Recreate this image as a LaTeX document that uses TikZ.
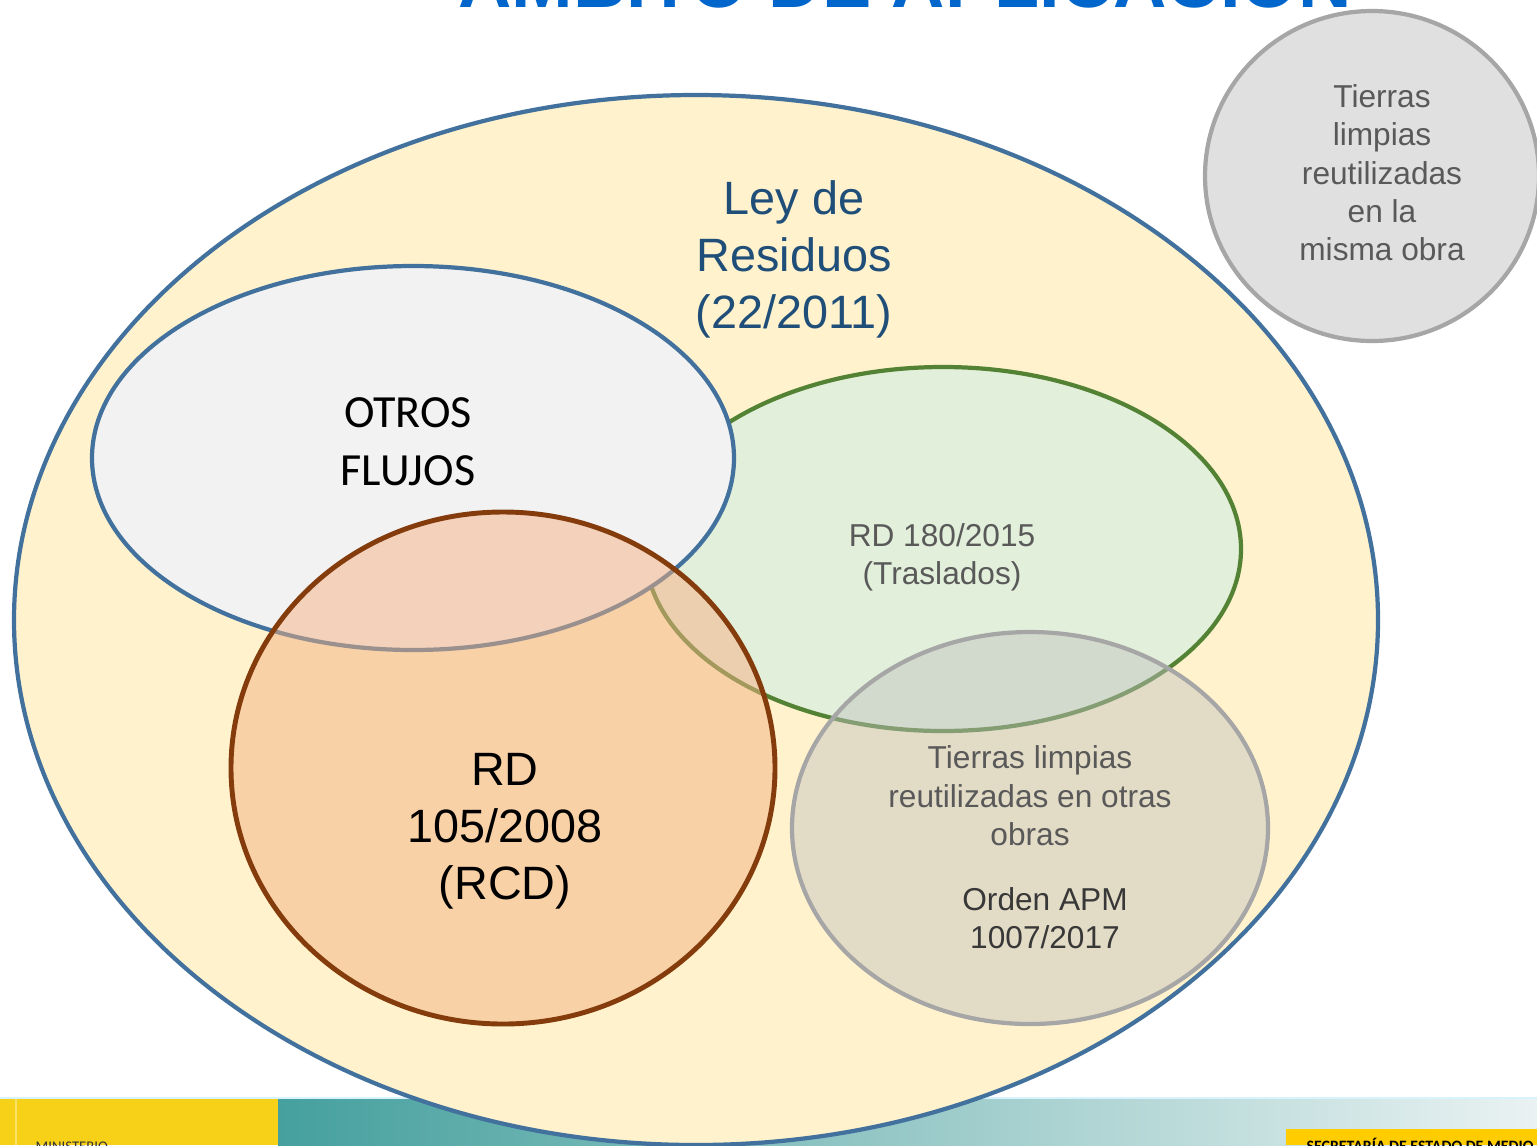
\documentclass[tikz,border=0pt]{standalone}
\usepackage{fontspec}
\setmainfont{Liberation Sans}
\newfontfamily\calibri{Carlito}
\usepackage{tikz}
\definecolor{leyfill}{HTML}{FFF2CC}
\definecolor{leyline}{HTML}{41719C}
\definecolor{leytext}{HTML}{1F4E79}
\definecolor{otrosfill}{HTML}{F2F2F2}
\definecolor{trasfill}{HTML}{E2EFDA}
\definecolor{trasline}{HTML}{548235}
\definecolor{rcdfill}{HTML}{F4B183}
\definecolor{rcdline}{HTML}{843C0C}
\definecolor{tierrafill}{HTML}{BFBFBF}
\definecolor{mismafill}{HTML}{E0E0E0}
\definecolor{grisline}{HTML}{A6A6A6}
\definecolor{gristext}{HTML}{595959}
\definecolor{titleblue}{HTML}{0066CC}
\definecolor{footyellow}{HTML}{F7D117}
\definecolor{secyellow}{HTML}{FFCC00}
\definecolor{tealA}{HTML}{45A09E}
\definecolor{tealB}{HTML}{EAF2F2}

\begin{document}
\begin{tikzpicture}[x=0.01cm,y=-0.01cm,
  big/.style={font=\fontsize{13.3}{16.2}\selectfont, align=center},
  small/.style={font=\fontsize{9}{10.9}\selectfont, align=center, text=gristext}]
\useasboundingbox (0,0) rectangle (1537,1145);

% title and footer
\node[anchor=base, text=titleblue, font=\fontsize{21}{25}\selectfont\bfseries] (titulo) at (905,7) {ÁMBITO DE APLICACIÓN};
\fill[footyellow] (0,1099) rectangle (278,1145);
\draw[white!35!footyellow, line width=0.5pt] (16,1099) -- (16,1145);
\shade[left color=tealA, right color=tealB] (278,1099) rectangle (1537,1145);
\draw[cyan!15, line width=0.5pt] (0,1098) -- (1537,1098);
\fill[secyellow] (1286,1129) rectangle (1537,1145);
\node[anchor=base west, inner sep=0pt, text=black!80, font=\calibri\fontsize{4.2}{5}\selectfont] (ministerio) at (35,1151) {MINISTERIO};
\node[anchor=base west, inner sep=0pt, font=\calibri\fontsize{4.5}{5}\selectfont\bfseries] (secretaria) at (1306,1151) {SECRETARÍA DE ESTADO DE MEDIO AMBIENTE};

% sets
\draw[leyline, fill=leyfill, line width=1.2pt] (696,620) ellipse [x radius=682, y radius=525];
\draw[trasline, fill=trasfill, line width=1.2pt] (943,549) ellipse [x radius=298, y radius=182];
\draw[leyline, fill=otrosfill, line width=1.2pt] (413,458) ellipse [x radius=321, y radius=192];
\draw[rcdline, fill=rcdfill, fill opacity=0.5, line width=1.4pt] (503,768) ellipse [x radius=272, y radius=256];
\draw[grisline, fill=tierrafill, fill opacity=0.45, line width=1.2pt] (1030,828) ellipse [x radius=238, y radius=196];
\draw[grisline, fill=mismafill, line width=1.2pt] (1372,176) ellipse [x radius=167, y radius=165];

\node[big, text=leytext] (ley) at (794,259) {Ley de\\Residuos\\(22/2011)};
\node[big, font=\calibri\fontsize{13.1}{16.5}\selectfont] (otros) at (408,442) {OTROS\\FLUJOS};
\node[big] (rcd) at (505,831) {RD\\105/2008\\(RCD)};
\node[small] (traslados) at (942,557) {RD 180/2015\\(Traslados)};
\node[small] (otrasobras) at (1030,796) {Tierras limpias\\reutilizadas en otras\\obras};
\node[small, text=black!78] (orden) at (1045,918) {Orden APM\\1007/2017};
\node[small] (misma) at (1382,173) {Tierras\\limpias\\reutilizadas\\en la\\misma obra};
\end{tikzpicture}
\end{document}
